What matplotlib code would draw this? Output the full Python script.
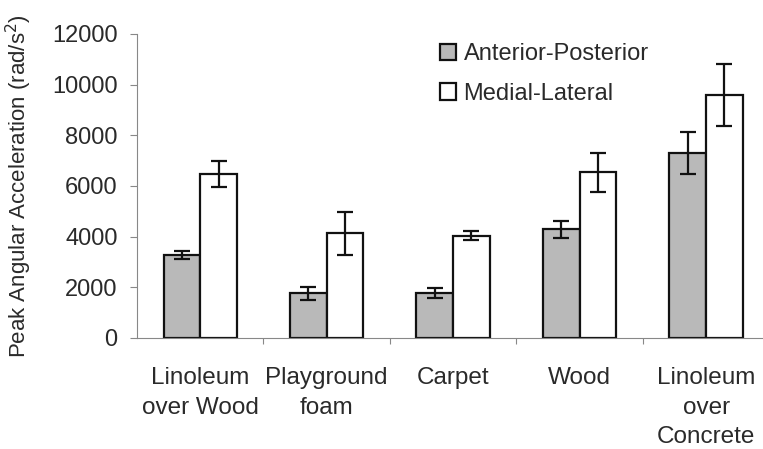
import numpy as np
import matplotlib
matplotlib.use("Agg")
import matplotlib.pyplot as plt

surfaces = ["Linoleum\nover Wood", "Playground\nfoam", "Carpet", "Wood", "Linoleum\nover\nConcrete"]
ap_mean = [3280, 1760, 1760, 4290, 7320]
ap_err = [160, 270, 200, 330, 830]
ml_mean = [6480, 4130, 4040, 6540, 9590]
ml_err = [500, 840, 180, 760, 1220]

plt.rcParams['font.family'] = ['Liberation Sans', 'DejaVu Sans']
text_color = '#2a2a2a'

fig = plt.figure(figsize=(7.63, 4.49), dpi=100)
ax = fig.add_axes([137 / 763, (449 - 338) / 449, (763 - 137) / 763, (338 - 34) / 449])

x = np.arange(len(surfaces))
w = 0.29
err_kw = dict(ecolor='#111111', elinewidth=1.6, capsize=6, capthick=1.6)
ax.bar(x - w / 2, ap_mean, w, yerr=ap_err, color='#b9b9b9', edgecolor='#111111',
       linewidth=1.6, error_kw=err_kw, label='Anterior-Posterior')
ax.bar(x + w / 2, ml_mean, w, yerr=ml_err, color='white', edgecolor='#111111',
       linewidth=1.6, error_kw=err_kw, label='Medial-Lateral')

ax.set_xlim(-0.5, 4.45)
ax.set_ylim(0, 12000)
ax.set_yticks(range(0, 12001, 2000))
ax.set_xticks(x, surfaces)
for lbl in ax.get_xticklabels():
    lbl.set_linespacing(1.45)
ax.set_xticks(np.arange(0.5, 4.5, 1), minor=True)
ax.tick_params(axis='x', which='major', length=0, pad=21, labelsize=17.5, colors=text_color)
ax.tick_params(axis='x', which='minor', length=4, color='#888888', width=0.8)
ax.tick_params(axis='y', length=5, color='#888888', width=0.8, labelsize=17,
               colors=text_color, pad=9)

for s in ['top', 'right']:
    ax.spines[s].set_visible(False)
for s in ['left', 'bottom']:
    ax.spines[s].set_color('#888888')
    ax.spines[s].set_linewidth(0.8)

ax.set_ylabel('Peak Angular Acceleration (rad/s$^2$)', fontsize=16, color=text_color)
ax.yaxis.set_label_coords(-0.165, 0.5)

leg = ax.legend(loc='upper left', bbox_to_anchor=(0.45, 1.04), frameon=False, fontsize=17,
                handlelength=0.7, handleheight=0.7, handletextpad=0.3, labelspacing=0.75)
for t in leg.get_texts():
    t.set_color(text_color)

fig.savefig('out.png', dpi=100)
